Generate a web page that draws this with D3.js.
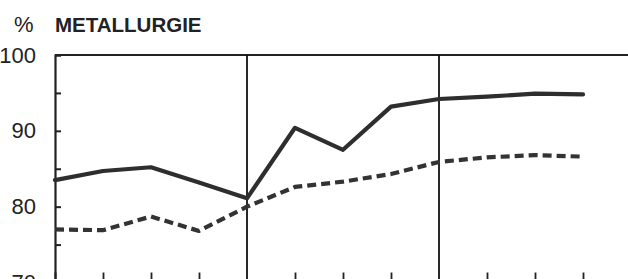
<!DOCTYPE html>
<html>
<head>
<meta charset="utf-8">
<script src="https://cdn.jsdelivr.net/npm/d3@7"></script>
<style>
  body { margin: 0; background: #fff; }
  svg { display: block; font-family: 'Liberation Sans', Arial, Helvetica, sans-serif; }
</style>
</head>
<body>
<div id="chart"></div>
<script>
// values, one point per period (12 periods, 3 blocks of 4)
const periods = [0, 1, 2, 3, 4, 5, 6, 7, 8, 9, 10, 11];
const solidSeries = [83.5, 84.7, 85.2, 83.2, 81.1, 90.4, 87.5, 93.2, 94.2, 94.5, 94.9, 94.8];
const dashedSeries = [77.0, 76.9, 78.7, 76.8, 80.0, 82.6, 83.3, 84.3, 85.9, 86.5, 86.8, 86.6];
const yTicks = [70, 75, 80, 85, 90, 95, 100];
const blockEdges = [4, 8];
const xTicks = [1, 2, 3, 5, 6, 7, 9, 10, 11];

const width = 628, height = 279;
const margin = { top: 55, left: 55 };

const svg = d3.select('#chart')
    .append('svg')
    .attr('width', width)
    .attr('height', height);

const x = d3.scaleLinear().domain([0, 12]).range([margin.left, margin.left + 12 * 48]);
const y = d3.scaleLinear().domain([70, 100]).range([282.5, margin.top]);

const ink = '#222';

// title
svg.append('text')
    .attr('x', 14)
    .attr('y', 32)
    .style('font-size', '22px')
    .attr('fill', ink)
    .text('%');
svg.append('text')
    .attr('x', 55)
    .attr('y', 32)
    .style('font-size', '20.5px')
    .style('font-weight', 'bold')
    .attr('fill', ink)
    .text('METALLURGIE');

// left axis, ticks pointing inside
const yAxis = svg.append('g')
    .attr('transform', `translate(${margin.left},0)`)
    .call(d3.axisLeft(y).tickValues(yTicks).tickSize(-6).tickPadding(19)
        .tickFormat((d) => (d % 10 === 0 ? d : '')));
yAxis.select('.domain').attr('stroke', ink).attr('stroke-width', 2.2);
yAxis.selectAll('.tick line').attr('stroke', ink).attr('stroke-width', 2);
yAxis.selectAll('.tick text')
    .attr('fill', ink)
    .style('font-size', '22px')
    .style('font-family', "'Liberation Sans', Arial, sans-serif");

// bottom ticks (axis line sits just under the picture)
const xAxis = svg.append('g')
    .attr('transform', `translate(0,${y(70)})`)
    .call(d3.axisBottom(x).tickValues(xTicks).tickSize(-10).tickFormat(''));
xAxis.select('.domain').attr('stroke', ink).attr('stroke-width', 2);
xAxis.selectAll('.tick line').attr('stroke', ink).attr('stroke-width', 1.8);

// top frame line
svg.append('line')
    .attr('x1', x(0)).attr('x2', width)
    .attr('y1', y(100)).attr('y2', y(100))
    .attr('stroke', ink)
    .attr('stroke-width', 2.2);

// block dividers
svg.selectAll('.divider')
    .data(blockEdges)
    .enter()
    .append('line')
    .attr('class', 'divider')
    .attr('x1', (d) => x(d)).attr('x2', (d) => x(d))
    .attr('y1', y(100)).attr('y2', y(70))
    .attr('stroke', '#111')
    .attr('stroke-width', 1.8);

const line = d3.line()
    .x((d, i) => x(periods[i]))
    .y((d) => y(d));

svg.append('path')
    .datum(dashedSeries)
    .attr('d', line)
    .attr('fill', 'none')
    .attr('stroke', '#333')
    .attr('stroke-width', 4.2)
    .attr('stroke-dasharray', '9,5')
    .attr('stroke-linejoin', 'round');

svg.append('path')
    .datum(solidSeries)
    .attr('d', line)
    .attr('fill', 'none')
    .attr('stroke', '#2e2e2e')
    .attr('stroke-width', 4.2)
    .attr('stroke-linecap', 'round')
    .attr('stroke-linejoin', 'round');
</script>
</body>
</html>
